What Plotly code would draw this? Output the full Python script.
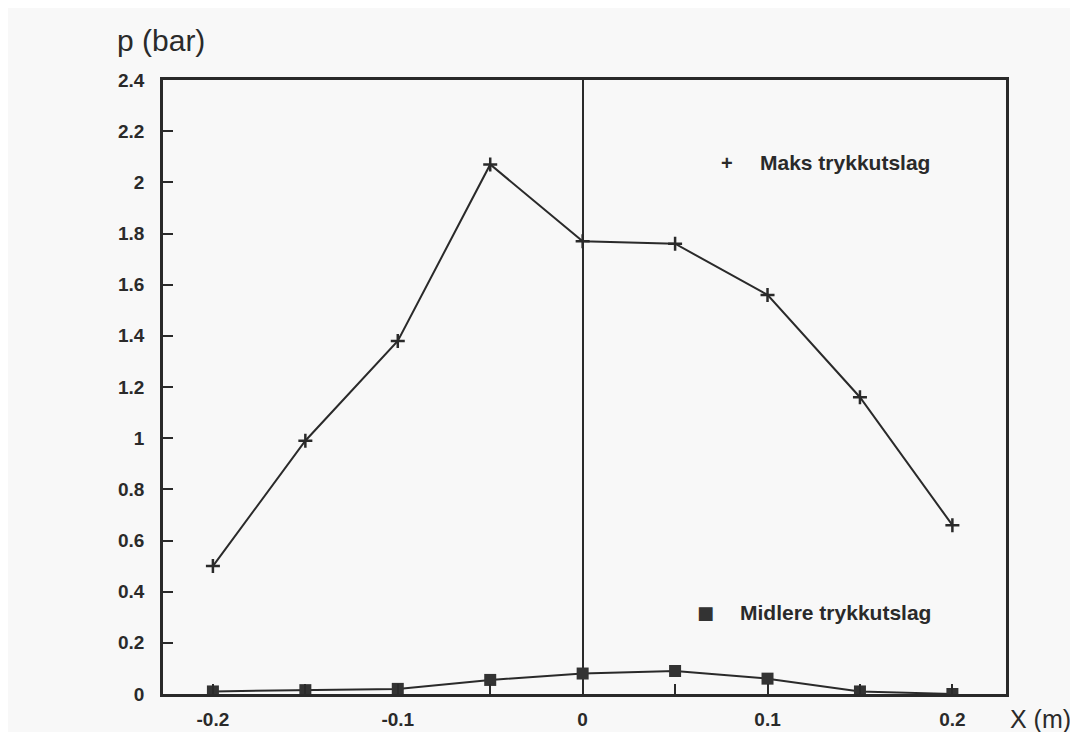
import plotly.graph_objects as go

x_pos = [-0.2, -0.15, -0.1, -0.05, 0.0, 0.05, 0.1, 0.15, 0.2]
maks = [0.50, 0.99, 1.38, 2.07, 1.77, 1.76, 1.56, 1.16, 0.66]
midlere = [0.01, 0.015, 0.02, 0.055, 0.08, 0.09, 0.06, 0.01, 0.0]
y_ticks = [0, 0.2, 0.4, 0.6, 0.8, 1, 1.2, 1.4, 1.6, 1.8, 2, 2.2, 2.4]
y_labels = ["0", "0.2", "0.4", "0.6", "0.8", "1", "1.2", "1.4", "1.6", "1.8", "2", "2.2", "2.4"]
x_ticks = [-0.2, -0.1, 0, 0.1, 0.2]
x_labels = ["-0.2", "-0.1", "0", "0.1", "0.2"]

ink = "#2a2a2a"
font = "Liberation Sans, Arial, sans-serif"

fig = go.Figure()
fig.add_trace(go.Scatter(
    x=x_pos, y=maks, mode="lines+markers", name="Maks trykkutslag",
    line=dict(color=ink, width=2),
    marker=dict(symbol="cross-thin", size=10, line=dict(color=ink, width=2.5)),
))
fig.add_trace(go.Scatter(
    x=x_pos, y=midlere, mode="lines+markers", name="Midlere trykkutslag",
    line=dict(color=ink, width=2),
    marker=dict(symbol="square", size=12, color="#333333"),
))

fig.update_layout(
    width=1062, height=724,
    margin=dict(l=155, r=64, t=72, b=38),
    paper_bgcolor="#f8f8f8", plot_bgcolor="#f8f8f8",
    showlegend=False,
    font=dict(family=font, color=ink, size=16),
    annotations=[
        dict(text="p (bar)", xref="paper", yref="paper", x=-0.057, y=1.0, yshift=40,
             xanchor="left", yanchor="middle", showarrow=False,
             font=dict(size=30, color=ink, family=font)),
        dict(text="X (m)", xref="paper", yref="paper", x=1.0, y=0, xshift=2, yshift=-25,
             xanchor="left", yanchor="middle", showarrow=False,
             font=dict(size=25, color=ink, family=font)),
        dict(text="<b>+</b>", xref="x", yref="y",
             x=0.078, y=2.076, xanchor="center", yanchor="middle", showarrow=False,
             font=dict(size=20, color=ink, family=font)),
        dict(text="<b>Maks trykkutslag</b>", xref="x", yref="y",
             x=0.0946, y=2.076, xanchor="left", yanchor="middle", showarrow=False,
             font=dict(size=21, color=ink, family=font)),
        dict(text="■", xref="x", yref="y",
             x=0.0665, y=0.317, xanchor="center", yanchor="middle", showarrow=False,
             font=dict(size=18, color="#333333", family="DejaVu Sans")),
        dict(text="<b>Midlere trykkutslag</b>", xref="x", yref="y",
             x=0.0838, y=0.317, xanchor="left", yanchor="middle", showarrow=False,
             font=dict(size=21, color=ink, family=font)),
    ],
)

fig.update_xaxes(
    range=[-0.227, 0.229], tickvals=x_ticks, ticktext=x_labels, automargin=False,
    ticks="inside", ticklen=10, tickwidth=2, tickcolor=ink,
    minor=dict(dtick=0.05, tick0=0, ticks="inside", ticklen=10, tickwidth=2, tickcolor=ink, showgrid=False),
    showline=True, linecolor=ink, linewidth=2.5, mirror=True,
    showgrid=False, zeroline=True, zerolinecolor=ink, zerolinewidth=2,
    ticklabelstandoff=6, tickfont=dict(size=19, color=ink, weight="bold"),
)
fig.update_yaxes(
    range=[0, 2.4], tickvals=y_ticks, ticktext=y_labels, automargin=False,
    ticks="inside", ticklen=10, tickwidth=2, tickcolor=ink,
    showline=True, linecolor=ink, linewidth=2.5, mirror=True,
    showgrid=False, zeroline=False,
    ticklabelstandoff=12, tickfont=dict(size=19, color=ink, weight="bold"),
)

fig.write_html("out.html")
